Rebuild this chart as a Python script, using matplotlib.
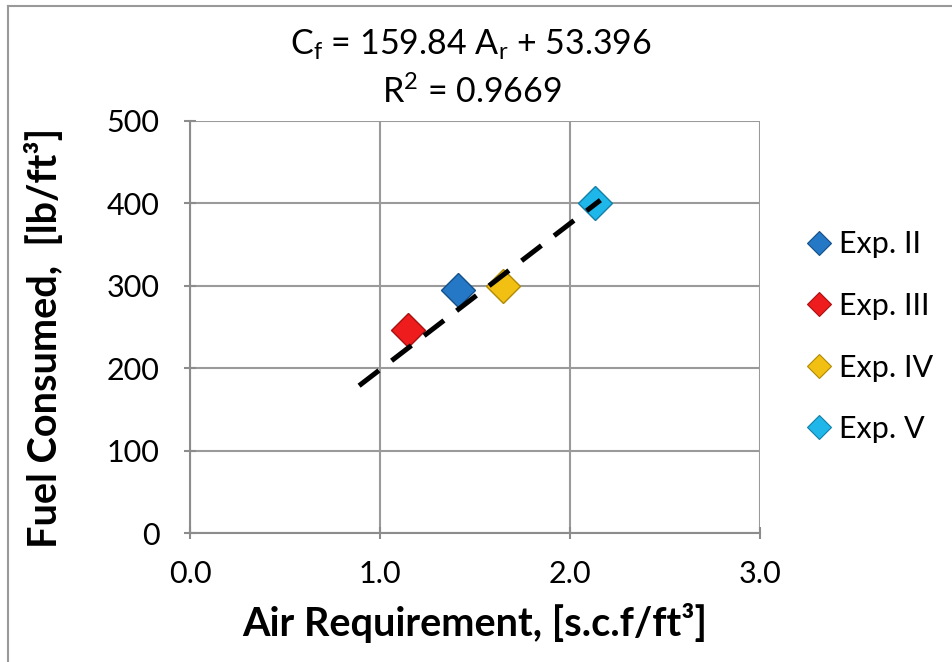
import numpy as np
import matplotlib.pyplot as plt
from matplotlib.lines import Line2D

plt.rcParams['font.family'] = ['Lato', 'DejaVu Sans']
plt.rcParams['mathtext.fontset'] = 'custom'
plt.rcParams['mathtext.rm'] = 'Lato'
plt.rcParams['mathtext.it'] = 'Lato'

# data
labels = ['Exp. II', 'Exp. III', 'Exp. IV', 'Exp. V']
air_req = [1.41, 1.15, 1.65, 2.13]
fuel = [295, 246, 300, 401]
colors = ['#2478c6', '#ee1c1c', '#f2c012', '#1fb6ea']
edges = ['#15508a', '#a81010', '#b08a05', '#1280a8']

# trendline end points as drawn
trend_x = [0.89, 2.16]
trend_y = [179, 404]

x_ticks = [0.0, 1.0, 2.0, 3.0]
y_ticks = [0, 100, 200, 300, 400, 500]

fig = plt.figure(figsize=(9.53, 6.62), dpi=100)
ax = fig.add_axes([190/953, 1-533.3/662, 570/953, (533.3-121)/662])

ax.plot(trend_x, trend_y, color='black', lw=3.6, dashes=(5, 3.2),
        dash_capstyle='butt', zorder=3)

for xv, yv, c, e, lab in zip(air_req, fuel, colors, edges, labels):
    ax.plot(xv, yv, 'D', ms=17, color=c, mec=e, mew=1, zorder=2, label=lab)

ax.set_xlim(0, 3)
ax.set_ylim(0, 500)
ax.set_xticks(x_ticks)
ax.set_xticklabels(['%.1f' % t for t in x_ticks])
ax.set_yticks(y_ticks)
ax.grid(True, color='#9a9a9a', lw=1.5)
ax.set_axisbelow(True)
for s in ['top', 'right']:
    ax.spines[s].set_visible(False)
for s in ['left', 'bottom']:
    ax.spines[s].set_color('#8c8c8c')
    ax.spines[s].set_linewidth(1.5)
ax.tick_params(direction='inout', length=8, width=1.5, color='#8c8c8c',
               labelsize=22)
ax.tick_params(axis='x', pad=15)
ax.tick_params(axis='y', pad=18)

ax.set_xlabel('Air Requirement, [s.c.f/ft³]', fontsize=28.5, fontweight='bold',
              labelpad=11)
fig.text(45/953, 1-338/662, 'Fuel Consumed,  [lb/ft³]', rotation=90,
         fontsize=28.5, fontweight='bold', ha='center', va='center')

fig.text(471/953, 1-45/662, r'C$_\mathrm{f}$ = 159.84 A$_\mathrm{r}$ + 53.396',
         fontsize=24.5, ha='center', va='center')
fig.text(472/953, 1-92/662, r'R$^\mathrm{2}$ = 0.9669', fontsize=24.5, ha='center',
         va='center')

handles = [Line2D([], [], marker='D', ls='none', ms=12, color=c, mec=e, mew=0.8)
           for c, e in zip(colors, edges)]
fig.legend(handles, labels, loc='upper left', bbox_to_anchor=(792/953, 1-215/662),
           frameon=False, fontsize=22, handlelength=0.8, handletextpad=0.25,
           labelspacing=1.1, borderpad=0)

# chart border (left and top visible)
fig.add_artist(Line2D([8/953, 8/953], [0, 1-6/662], color='#999999', lw=1.5))
fig.add_artist(Line2D([8/953, 1], [1-6/662, 1-6/662], color='#999999', lw=1.5))

fig.savefig('out.png', dpi=100)
